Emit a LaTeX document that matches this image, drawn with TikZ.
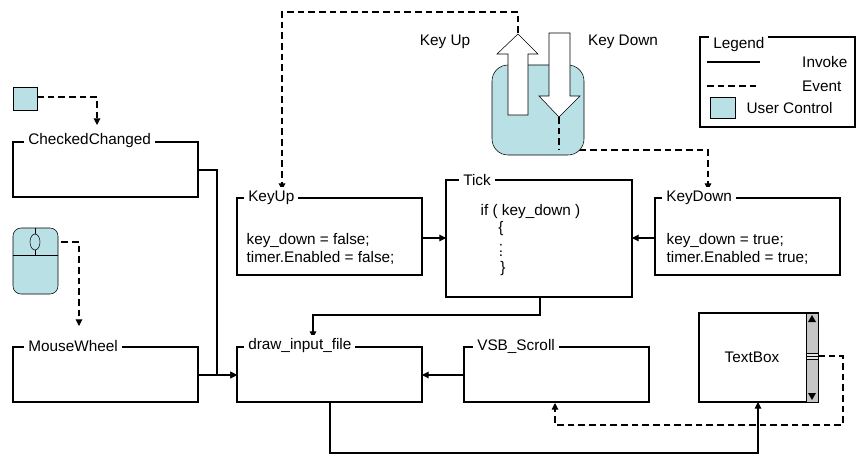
\documentclass[tikz,border=0pt]{standalone}
\usepackage{fontspec}
\setmainfont{Liberation Sans}
\usetikzlibrary{arrows.meta}
\definecolor{uc}{HTML}{B9E0E4}
\begin{document}
\begin{tikzpicture}[x=0.75pt,y=-0.75pt,
  every node/.style={font=\fontsize{11.5}{14}\selectfont,inner sep=1pt},
  box/.style={draw,thick},
  ttl/.style={fill=white,anchor=west,inner sep=3pt},
  inv/.style={thick,-{Triangle[length=5pt,width=5pt]}},
  ev/.style={thick,dashed,dash pattern=on 5pt off 3pt,-{Triangle[length=5pt,width=5pt]}},
  evn/.style={thick,dashed,dash pattern=on 5pt off 3pt}]
\useasboundingbox (0,0) rectangle (866,467);
% connectors first
\draw[inv] (198,170) -- (217,170) -- (217,375) -- (237,375);
\draw[inv] (198,375) -- (237,375);
\draw[inv] (540,297) -- (540,315) -- (313,315) -- (313,338);
\draw[inv] (422,238) -- (446,238);
\draw[inv] (655,238) -- (632,238);
\draw[inv] (464,375) -- (422,375);
\draw[inv] (330,402) -- (330,453) -- (758,453) -- (758,402);
\draw[ev] (818,356) -- (843,356) -- (843,425) -- (555,425) -- (555,403);
\draw[ev] (518,33) -- (518,12) -- (282,12) -- (282,190);
\draw[ev] (559,117) -- (559,150) -- (708,150) -- (708,190);
\draw[ev] (37,97) -- (97,97) -- (97,125);
\draw[ev] (40,242) -- (79,242) -- (79,326);
% boxes
\draw[box] (13,142) rectangle (198,197); \node[ttl] (cc) at (24,141) {CheckedChanged};
\draw[box] (13,347) rectangle (198,402); \node[ttl] (mw) at (24,346) {MouseWheel};
\draw[box] (237,198) rectangle (422,275); \node[ttl] (ku) at (244,198) {KeyUp};
\node[anchor=west,align=left] at (245,249) {key\_down = false;\\timer.Enabled = false;};
\draw[box] (446,180) rectangle (632,297); \node[ttl] (tk) at (459,180) {Tick};
\node[anchor=west] at (479,212) {if ( key\_down )};
\node at (501,229) {\{}; \node[inner sep=0pt] at (501,248) {:}; \node[inner sep=0pt] at (501,256) {.}; \node at (503,269) {\}};
\draw[box] (655,198) rectangle (840,275); \node[ttl] (kd) at (662,198) {KeyDown};
\node[anchor=west,align=left] at (665,249) {key\_down = true;\\timer.Enabled = true;};
\draw[box] (237,347) rectangle (422,402); \node[ttl] (di) at (244,346) {draw\_input\_file};
\draw[box] (464,347) rectangle (649,402); \node[ttl] (vs) at (473,346) {VSB\_Scroll};
% textbox
\draw[box,fill=white] (699,313) rectangle (818,402);
\node (tb) at (752,357) {TextBox};
\draw[fill=gray!45] (806,313) rectangle (818,402);
\fill (812,315) -- (808,322) -- (816,322) -- cycle;
\fill (812,400) -- (808,393) -- (816,393) -- cycle;
\draw[fill=gray!20] (806,353) rectangle (818,359); \draw (806,356) -- (818,356);
% legend
\draw[box] (700,37) rectangle (855,127); \node[ttl] at (709,45) {Legend};
\draw[thick] (707,62) -- (760,62); \node[anchor=east] at (849,62) {Invoke};
\draw[evn] (707,86) -- (760,86); \node[anchor=east] at (843,86) {Event};
\draw[fill=uc] (710,97) rectangle (735,118); \node[anchor=west] at (745,108) {User Control};
% checkbox & mouse
\draw[fill=uc] (13,87) rectangle (37,110);
\draw[fill=uc,rounded corners=6pt] (13,228) rectangle (58,294);
\draw (13,255) -- (58,255); \draw (35,228) -- (35,255);
\draw[fill=uc] (35,242) ellipse (5 and 8);
% keyboard
\draw[fill=uc,rounded corners=12pt] (492,65) rectangle (584,155);
\draw[fill=white] (508,115) -- (508,54) -- (497,54) -- (518,34) -- (538,54) -- (528,54) -- (528,115) -- cycle;
\draw[fill=white] (549,33) -- (570,33) -- (570,96) -- (580,96) -- (559,117) -- (539,96) -- (549,96) -- cycle;
\draw[evn] (559,117) -- (559,150);
\node at (445,42) {Key Up}; \node at (623,42) {Key Down};
\end{tikzpicture}
\end{document}
